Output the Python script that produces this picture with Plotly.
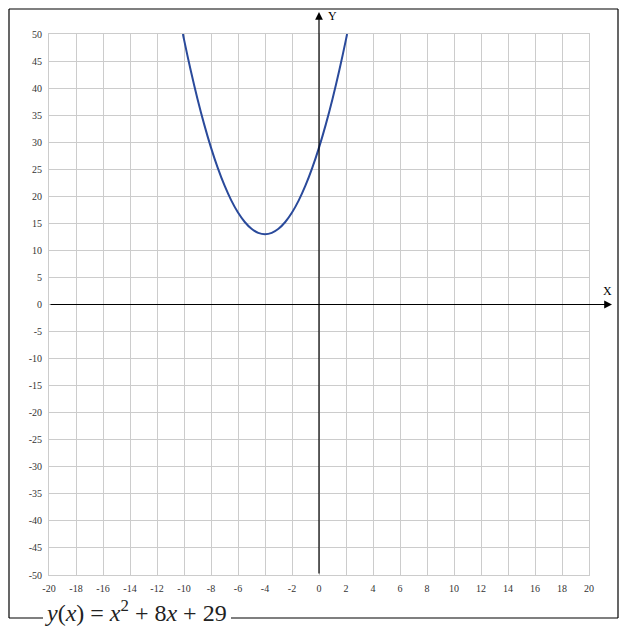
import plotly.graph_objects as go

# Curve samples of y(x) = x^2 + 8x + 29
curve_x = [-10.08, -10, -9.5, -9, -8.5, -8, -7.5, -7, -6.5, -6, -5.5, -5, -4.5, -4,
           -3.5, -3, -2.5, -2, -1.5, -1, -0.5, 0, 0.5, 1, 1.5, 2, 2.08]
curve_y = [50, 49, 43.25, 38, 33.25, 29, 25.25, 22, 19.25, 17, 15.25, 14, 13.25, 13,
           13.25, 14, 15.25, 17, 19.25, 22, 25.25, 29, 33.25, 38, 43.25, 49, 50]

x_ticks = list(range(-20, 21, 2))
x_tick_labels = [str(v) for v in x_ticks]
y_ticks = list(range(-50, 51, 5))
y_tick_labels = [str(v) for v in y_ticks]
x_range = [-20, 20]
y_range = [-50, 50]
formula = "<i>y</i>(<i>x</i>) = <i>x</i><sup>2</sup> + 8<i>x</i> + 29"

W, H = 627, 630
L, R, T, B = 49, 38, 34, 55
pw, ph = W - L - R, H - T - B

def px(xp):
    return (xp - L) / pw

def py(yp):
    return (H - B - yp) / ph

fig = go.Figure()
fig.add_trace(go.Scatter(x=curve_x, y=curve_y, mode="lines",
                         line=dict(color="#2a4a9b", width=2, shape="spline"),
                         hoverinfo="skip", showlegend=False))

grid = "#cccccc"
tickfont = dict(family="Liberation Serif, Times New Roman, serif", size=10, color="#333")
fig.update_xaxes(range=x_range, tickvals=x_ticks, ticktext=x_tick_labels, showgrid=True, gridcolor=grid,
                 gridwidth=1, zeroline=False, showline=True, mirror=True, linecolor=grid, linewidth=1,
                 ticks="outside", ticklen=4, tickcolor="rgba(0,0,0,0)", tickfont=tickfont, fixedrange=True)
fig.update_yaxes(range=y_range, tickvals=y_ticks, ticktext=y_tick_labels, showgrid=True, gridcolor=grid,
                 gridwidth=1, zeroline=False, showline=True, mirror=True, linecolor=grid, linewidth=1,
                 ticks="outside", ticklen=4, tickcolor="rgba(0,0,0,0)", tickfont=tickfont, fixedrange=True)

shapes = []
# outer frame with gap for formula at bottom
bx0, bx1, by0, by1 = px(9), px(618), py(618), py(9)
for (x0, y0, x1, y1) in [(bx0, by1, bx1, by1), (bx0, by0, bx0, by1), (bx1, by0, bx1, by1),
                         (bx0, by0, px(43), by0), (px(231), by0, bx1, by0)]:
    shapes.append(dict(type="line", xref="paper", yref="paper", x0=x0, y0=y0, x1=x1, y1=y1,
                       line=dict(color="black", width=1.2)))

annotations = [
    # X axis arrow
    dict(x=px(612), y=0, xref="paper", yref="y", ax=-(612 - L), ay=0, axref="pixel", ayref="pixel",
         text="", showarrow=True, arrowhead=2, arrowsize=1.3, arrowwidth=1.2, arrowcolor="black"),
    # Y axis arrow
    dict(x=0, y=py(12), xref="x", yref="paper", ax=0, ay=(H - B - 12), axref="pixel", ayref="pixel",
         text="", showarrow=True, arrowhead=2, arrowsize=1.3, arrowwidth=1.2, arrowcolor="black"),
    dict(x=px(607), y=py(291), xref="paper", yref="paper", text="X", showarrow=False,
         xanchor="center", yanchor="middle",
         font=dict(family="Liberation Serif, serif", size=12, color="black")),
    dict(x=px(332), y=py(16), xref="paper", yref="paper", text="Y", showarrow=False,
         xanchor="center", yanchor="middle",
         font=dict(family="Liberation Serif, serif", size=12, color="black")),
    dict(x=px(136), y=py(611), xref="paper", yref="paper", text=formula, showarrow=False,
         xanchor="center", yanchor="middle",
         font=dict(family="Liberation Serif, serif", size=24, color="#222")),
]

fig.update_layout(width=W, height=H, margin=dict(l=L, r=R, t=T, b=B),
                  paper_bgcolor="white", plot_bgcolor="white",
                  shapes=shapes, annotations=annotations, showlegend=False)

fig.write_html("out.html", config={"displayModeBar": False},
               post_script="document.body.style.margin='0';")
